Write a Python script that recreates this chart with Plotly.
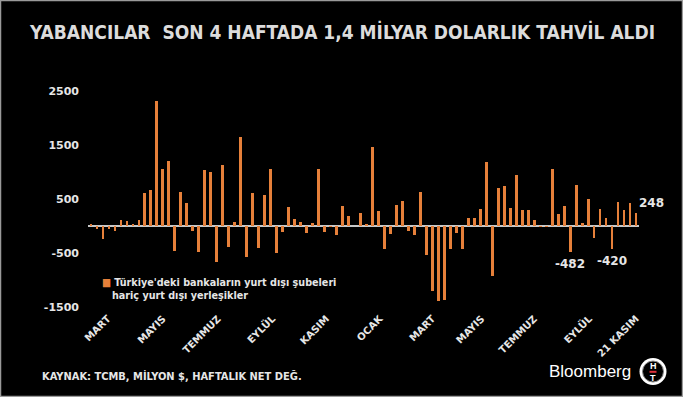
import plotly.graph_objects as go

# ---------------- data ----------------
week_index = list(range(92))
flows = [
    30, -50, -250, -60, -90, 120, 90, 30, 120, 605,
    665, 2330, 1060, 1215, -465, 635, 420, -90, -475, 1045,
    1005, -660, 1140, -385, 80, 1660, -575, 605, -410, 570,
    1050, -495, -110, 350, 135, 75, -125, 60, 1050, -110,
    -10, -165, 375, 180, 0, 250, 45, 1470, 280, -430,
    -155, 395, 465, -85, -165, 625, -540, -1200, -1385, -1370,
    -430, -135, -420, 155, 140, 315, 1195, -935, 705, 735,
    340, 950, 300, 290, 110, -10, -10, 1060, 230, 365,
    -482, 765, 60, 500, -230, 310, 155, -420, 455, 300,
    420, 248,
]
tick_positions = [2.8, 12, 21.2, 30.3, 39.3, 48.2, 57, 65.2, 74, 83.2, 91]
tick_labels = ["MART", "MAYIS", "TEMMUZ", "EYLÜL", "KASIM", "OCAK",
               "MART", "MAYIS", "TEMMUZ", "EYLÜL", "21 KASIM"]
y_tick_values = [2500, 1500, 500, -500, -1500]
labelled_weeks = [80, 87, 91]

title_text = "YABANCILAR  SON 4 HAFTADA 1,4 MİLYAR DOLARLIK TAHVİL ALDI"
legend_line1 = "Türkiye'deki bankaların yurt dışı şubeleri"
legend_line2 = "hariç yurt dışı yerleşikler"
source_text = "KAYNAK: TCMB, MİLYON $, HAFTALIK NET DEĞ."

# ---------------- layout helpers ----------------
W, H = 683, 397
ML, MR, MT, MB = 88, 44, 86, 87
PW, PH = W - ML - MR, H - MT - MB


def px(x):
    return (x - ML) / PW


def py(y):
    return (H - MB - y) / PH


BAR = "#E6803A"
TXT = "#E6E6E6"
BOLD = "DejaVu Sans"
COND = "DejaVu Sans Condensed"

fig = go.Figure()
fig.add_trace(go.Bar(
    x=week_index, y=flows, width=0.47,
    marker=dict(color=BAR, line=dict(width=0)),
    showlegend=False,
))

annotations = []
for i in labelled_weeks:
    v = flows[i]
    if v < 0:
        annotations.append(dict(x=i, y=v, xref="x", yref="y", text=f"<b>{v}</b>",
                                showarrow=False, yanchor="top", yshift=-3,
                                font=dict(family=BOLD, size=12, color=TXT)))
    else:
        annotations.append(dict(x=i, y=v, xref="x", yref="y", text=f"<b>{v}</b>",
                                showarrow=False, xanchor="left", yanchor="bottom",
                                xshift=1, yshift=1,
                                font=dict(family=BOLD, size=12, color=TXT)))

# title
annotations.append(dict(x=px(W / 2), y=py(32), xref="paper", yref="paper",
                        text=f"<b>{title_text}</b>", showarrow=False,
                        xanchor="center", yanchor="middle",
                        font=dict(family=COND, size=19, color="#DCDCDC")))
# legend
annotations.append(dict(x=px(100), y=py(282), xref="paper", yref="paper",
                        text=f"<span style='color:{BAR}'>■</span> <b>{legend_line1}</b>",
                        showarrow=False, xanchor="left", yanchor="middle",
                        font=dict(family=COND, size=10.7, color=TXT)))
annotations.append(dict(x=px(110), y=py(295), xref="paper", yref="paper",
                        text=f"<b>{legend_line2}</b>",
                        showarrow=False, xanchor="left", yanchor="middle",
                        font=dict(family=COND, size=10.7, color=TXT)))
# source
annotations.append(dict(x=px(40), y=py(376), xref="paper", yref="paper",
                        text=f"<b>{source_text}</b>", showarrow=False,
                        xanchor="left", yanchor="middle",
                        font=dict(family=COND, size=11, color=TXT)))
# Bloomberg logo text
annotations.append(dict(x=px(590), y=py(371), xref="paper", yref="paper",
                        text="Bloomberg", showarrow=False,
                        xanchor="center", yanchor="middle",
                        font=dict(family="Liberation Sans", size=17, color="white")))
annotations.append(dict(x=px(653), y=py(365.5), xref="paper", yref="paper",
                        text="<b>H</b>", showarrow=False,
                        xanchor="center", yanchor="middle",
                        font=dict(family="Liberation Sans", size=9, color="white")))
annotations.append(dict(x=px(653), y=py(378), xref="paper", yref="paper",
                        text="<b>T</b>", showarrow=False,
                        xanchor="center", yanchor="middle",
                        font=dict(family="Liberation Sans", size=9, color="white")))

shapes = [
    # outer frame
    dict(type="rect", xref="paper", yref="paper",
         x0=px(0.5), x1=px(W - 0.5), y0=py(0.5), y1=py(H - 0.5),
         line=dict(color="#9A9A9A", width=1.5), layer="above"),
    # logo ring
    dict(type="circle", xref="paper", yref="paper",
         x0=px(639.5), x1=px(666.5), y0=py(358), y1=py(385),
         fillcolor="white", line=dict(width=0), layer="below"),
    dict(type="circle", xref="paper", yref="paper",
         x0=px(642.5), x1=px(663.5), y0=py(361), y1=py(382),
         fillcolor="black", line=dict(color="#888888", width=1), layer="below"),
    dict(type="line", xref="paper", yref="paper",
         x0=px(649.5), x1=px(656.5), y0=py(371.8), y1=py(371.8),
         line=dict(color="#E0303A", width=2)),
]

fig.update_layout(
    width=W, height=H,
    margin=dict(l=ML, r=MR, t=MT, b=MB, pad=0),
    paper_bgcolor="black", plot_bgcolor="black",
    bargap=0,
    xaxis=dict(range=[-0.5, 91.5], tickmode="array", tickvals=tick_positions,
               ticktext=[f"<b>{t}</b>" for t in tick_labels], tickangle=-45,
               showgrid=False, zeroline=False, showline=False, ticks="",
               tickfont=dict(family=BOLD, size=10, color=TXT)),
    yaxis=dict(range=[-1560, 2600], tickmode="array", tickvals=y_tick_values,
               ticktext=[f"<b>{v}</b>" for v in y_tick_values],
               showgrid=False, zeroline=True, zerolinecolor="#C8C8C8", zerolinewidth=2,
               showline=False, ticks="", ticklabelstandoff=8,
               tickfont=dict(family=BOLD, size=11, color=TXT)),
    annotations=annotations,
    shapes=shapes,
)

fig.write_html("out.html", config={"displayModeBar": False},
               post_script="document.body.style.margin='0';document.body.style.background='black';")
